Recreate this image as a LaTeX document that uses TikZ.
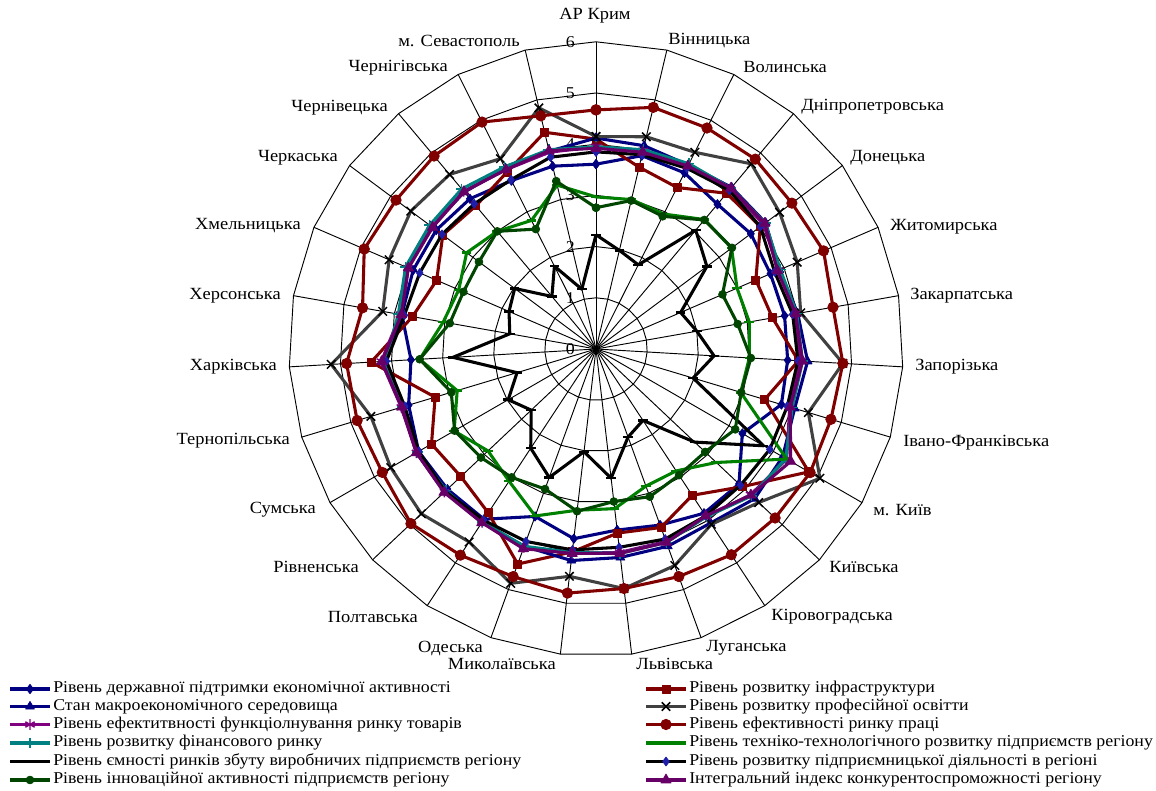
\documentclass[tikz,border=0pt]{standalone}
\usepackage{fontspec}
\setmainfont{Liberation Serif}[FakeStretch=1.08]
\usetikzlibrary{plotmarks}
\definecolor{cnavy}{RGB}{0,0,128}
\definecolor{cpurple}{RGB}{128,0,128}
\definecolor{cteal}{RGB}{0,128,128}
\definecolor{cdgreen}{RGB}{0,70,0}
\definecolor{cmaroon}{RGB}{128,0,0}
\definecolor{cgray}{RGB}{64,64,64}
\definecolor{cgreen}{RGB}{0,128,0}
\definecolor{cblued}{RGB}{30,30,170}
\definecolor{cpurpleI}{RGB}{102,0,102}
\tikzset{
  gridline/.style={black, line width=0.7pt},
  ser/.style={line width=2.3pt, line join=round},
  sA/.style={ser, cnavy, mark=diamond*, mark size=3.5pt, mark options={fill=cnavy, line width=0.6pt}},
  sB/.style={ser, cnavy, mark=triangle*, mark size=3.8pt, mark options={fill=cnavy, line width=0.6pt}},
  sC/.style={ser, cpurple, mark=asterisk, mark size=4pt, mark options={line width=1.1pt}},
  sD/.style={ser, cteal, mark=+, mark size=4pt, mark options={line width=1.1pt}},
  sE/.style={ser, black, mark=-, mark size=3.6pt, mark options={line width=1.8pt}},
  sF/.style={ser, cdgreen, mark=*, mark size=2.9pt, mark options={fill=cdgreen, line width=0.6pt}},
  sG/.style={ser, cmaroon, mark=square*, mark size=3pt, mark options={fill=cmaroon, line width=0.6pt}},
  sH/.style={ser, cgray, mark=x, mark size=4.5pt, mark options={black, line width=1.1pt}},
  sI/.style={ser, cmaroon, mark=*, mark size=3.9pt, mark options={fill=cmaroon, line width=0.6pt}},
  sJ/.style={ser, cgreen, mark=-, mark size=3.6pt, mark options={line width=1.8pt}},
  sK/.style={ser, black, mark=diamond*, mark size=3.3pt, mark options={fill=cblued, draw=cblued, line width=0.6pt}},
  sL/.style={ser, cpurpleI, mark=triangle*, mark size=4.4pt, mark options={fill=cpurpleI, line width=0.6pt}},
  lab/.style={font=\fontsize{12.8}{14}\selectfont, inner sep=0pt},
  axl/.style={font=\fontsize{12.4}{14}\selectfont, inner sep=0pt},
  leg/.style={font=\fontsize{12.4}{14}\selectfont, inner sep=0pt, anchor=west},
}
\newcommand\radarseries[3]{%
  \foreach \v [count=\i from 0] in {#2} {\coordinate (#1\i) at ({90-\i*360/27}:\v);}
  \draw[#3] plot coordinates {(#10)(#11)(#12)(#13)(#14)(#15)(#16)(#17)(#18)(#19)(#110)(#111)(#112)(#113)(#114)(#115)(#116)(#117)(#118)(#119)(#120)(#121)(#122)(#123)(#124)(#125)(#126)(#10)};
}
\newcommand\legentry[4]{% x, y, style, text
  \draw[#3, mark indices={2}] plot coordinates {(#1,#2) (#1+20,#2) (#1+40,#2)};
  \node[leg] (lt#1#2) at (#1+43,#2) {#4};
}
\begin{document}
\begin{tikzpicture}[x=0.75pt,y=-0.75pt]
\path[use as bounding box] (0,0) rectangle (1156,791);
\fill[white] (0,0) rectangle (1156,791);
\begin{scope}[shift={(596,349)}, x=38.4pt, y=38.4pt]
  % grid rings
  \foreach \r in {1,...,6} {
    \draw[gridline] (90:\r) \foreach \k in {1,...,26} { -- ({90-\k*360/27}:\r) } -- cycle;
  }
  \foreach \k in {0,...,26} {
    \draw[gridline] (0,0) -- ({90-\k*360/27}:6);
  }
  \foreach \r in {0,...,6} {
    \node[axl] (ax\r) at (-0.5,\r) {\r};
  }
  % series
  \radarseries{a}{3.61,3.88,3.85,3.69,3.77,3.71,3.74,3.75,3.78,3.30,3.84,3.84,3.66,3.56,3.73,3.48,3.98,3.99,4.0,3.82,3.62,3.85,3.89,3.89,3.83,3.68,3.67}{sA}
  \radarseries{g}{4.1,3.65,3.53,3.97,4.0,3.40,3.50,3.96,3.44,4.8,3.92,3.42,3.71,3.62,3.99,4.47,3.83,3.63,3.71,3.28,4.40,3.64,3.39,3.73,3.65,3.87,4.35}{sG}
  \radarseries{b}{4.12,4.08,4.02,4.12,4.13,3.9,4.0,4.14,4.05,4.21,4.26,4.07,4.1,4.1,4.16,4.1,4.05,4.05,4.05,3.95,4.15,3.85,4.0,4.02,4.0,3.95,3.97}{sB}
  \radarseries{h}{4.15,4.26,4.30,4.72,4.47,4.28,4.06,4.83,4.33,5.05,4.37,4.1,4.50,4.71,4.47,4.87,4.51,4.69,4.63,4.59,5.18,4.23,4.40,4.51,4.45,4.16,4.84}{sH}
  \radarseries{c}{3.95,3.98,4.0,4.08,4.08,3.88,3.95,4.0,3.95,4.3,4.15,3.92,4.0,4.0,4.02,4.12,4.05,4.07,4.05,3.97,4.2,3.88,4.0,4.0,4.02,3.92,3.95}{sC}
  \radarseries{i}{4.67,4.85,4.83,4.84,4.77,4.84,4.70,4.83,4.79,4.83,4.81,4.81,4.73,4.71,4.80,4.73,4.82,4.97,4.82,4.87,4.88,4.63,4.93,4.87,4.92,4.96,4.68}{sI}
  \radarseries{d}{3.95,4.0,4.05,4.1,4.12,3.92,3.98,4.04,4.0,4.28,4.18,3.92,4.02,4.02,4.0,4.1,4.04,4.03,4.03,3.95,4.12,3.92,4.05,4.05,4.08,3.98,4.0}{sD}
  \radarseries{j}{2.97,3.0,2.95,3.3,3.3,3.0,3.04,3.0,2.95,4.3,3.23,2.85,2.85,3.14,3.17,3.47,3.09,2.90,3.2,2.83,3.45,3.03,2.92,3.15,3.0,2.81,3.29}{sJ}
  \radarseries{e}{2.23,1.98,1.84,3.03,2.70,1.80,2.0,2.31,1.98,3.78,2.65,1.67,1.83,2.54,2.02,2.67,2.32,1.74,1.98,1.61,2.80,1.71,1.85,1.98,1.34,1.81,1.20}{sE}
  \radarseries{k}{3.85,3.9,3.95,4.05,4.0,3.8,3.9,3.95,3.9,3.92,3.88,3.9,3.95,3.9,3.95,4.0,4.0,4.05,4.0,3.9,4.1,3.8,3.75,3.75,3.7,3.7,3.85}{sK}
  \radarseries{f}{2.76,2.98,2.90,3.29,3.31,2.69,2.81,3.03,2.96,3.14,2.93,2.95,3.07,3.0,3.19,2.91,3.0,3.09,3.19,2.95,3.45,2.90,2.82,2.85,3.0,2.62,3.37}{sF}
  \radarseries{l}{3.92,3.95,4.0,4.10,4.11,3.86,3.96,4.04,3.96,4.39,4.16,3.90,4.02,4.02,4.02,4.15,4.06,4.08,4.05,3.96,4.19,3.86,3.99,3.98,4.01,3.92,3.98}{sL}
\end{scope}
% region labels
\node[lab] (r0) at (595,16) {АР Крим};
\node[lab, anchor=west] (r1) at (668,41) {Вінницька};
\node[lab, anchor=west] (r2) at (743,67) {Волинська};
\node[lab, anchor=west] (r3) at (801,107) {Дніпропетровська};
\node[lab, anchor=west] (r4) at (850,158) {Донецька};
\node[lab, anchor=west] (r5) at (890,227) {Житомирська};
\node[lab, anchor=west] (r6) at (910,296) {Закарпатська};
\node[lab, anchor=west] (r7) at (915,367) {Запорізька};
\node[lab, anchor=west] (r8) at (903,443) {Івано-Франківська};
\node[lab, anchor=west] (r9) at (873,510) {м. Київ};
\node[lab, anchor=west] (r10) at (829,567) {Київська};
\node[lab, anchor=west] (r11) at (771,617) {Кіровоградська};
\node[lab, anchor=west] (r12) at (706,648) {Луганська};
\node[lab, anchor=west] (r13) at (636,664) {Львівська};
\node[lab, anchor=east] (r14) at (556,664) {Миколаївська};
\node[lab, anchor=east] (r15) at (483,648) {Одеська};
\node[lab, anchor=east] (r16) at (418,617) {Полтавська};
\node[lab, anchor=east] (r17) at (359,567) {Рівненська};
\node[lab, anchor=east] (r18) at (316,510) {Сумська};
\node[lab, anchor=east] (r19) at (290,441) {Тернопільська};
\node[lab, anchor=east] (r20) at (277,367) {Харківська};
\node[lab, anchor=east] (r21) at (281,296) {Херсонська};
\node[lab, anchor=east] (r22) at (301,226) {Хмельницька};
\node[lab, anchor=east] (r23) at (338,158) {Черкаська};
\node[lab, anchor=east] (r24) at (388,108) {Чернівецька};
\node[lab, anchor=east] (r25) at (448,68) {Чернігівська};
\node[lab, anchor=east] (r26) at (520,41) {м. Севастополь};
% legend
\legentry{10}{689}{sA}{Рівень державної підтримки економічної активності}
\legentry{10}{706.5}{sB}{Стан макроекономічного середовища}
\legentry{10}{724.5}{sC}{Рівень ефектитвності функціолнування ринку товарів}
\legentry{10}{743}{sD}{Рівень розвитку фінансового ринку}
\legentry{10}{761.5}{sE, mark=none}{Рівень ємності ринків збуту виробничих підприємств регіону}
\legentry{10}{780}{sF}{Рівень інноваційної активності підприємств регіону}
\legentry{646}{689}{sG}{Рівень розвитку інфраструктури}
\legentry{646}{706.5}{sH}{Рівень розвитку професійної освітти}
\legentry{646}{724.5}{sI}{Рівень ефективності ринку праці}
\legentry{646}{743}{sJ, mark=none}{Рівень техніко-технологічного розвитку підприємств регіону}
\legentry{646}{761.5}{sK}{Рівень розвитку підприємницької діяльності в регіоні}
\legentry{646}{780}{sL}{Інтегральний індекс конкурентоспроможності регіону}
\end{tikzpicture}
\end{document}
